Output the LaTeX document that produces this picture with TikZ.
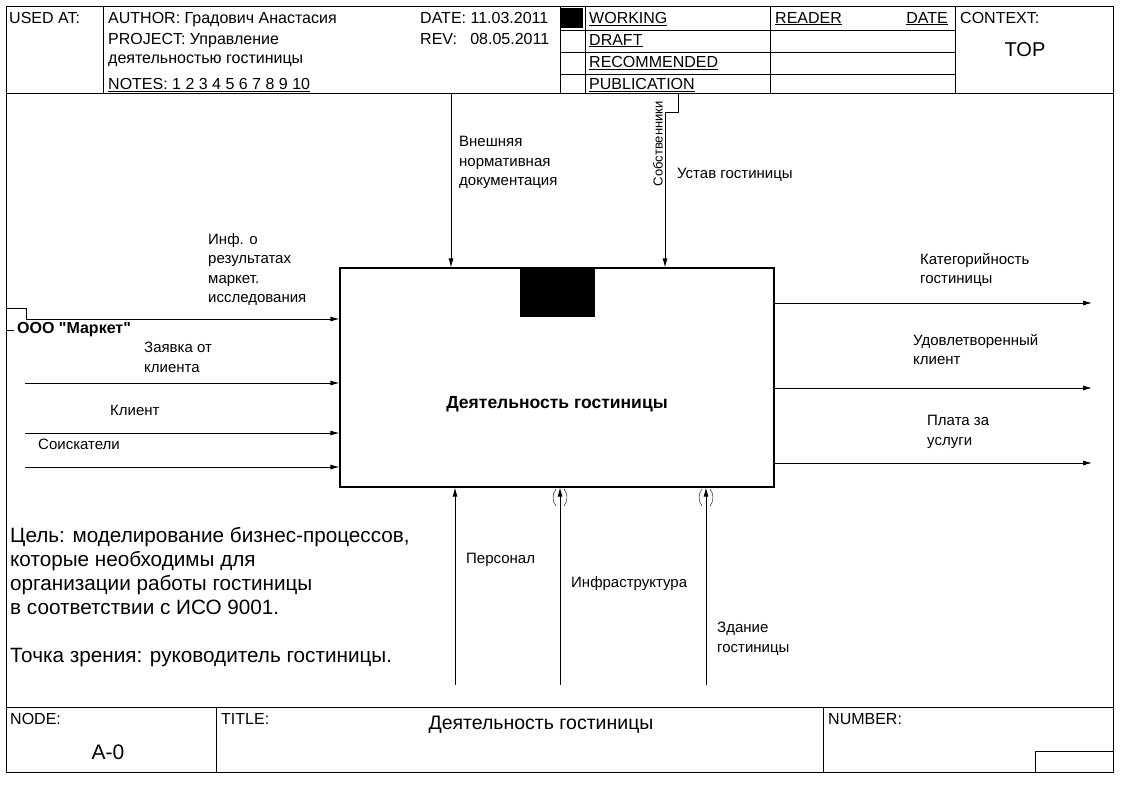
\documentclass[tikz,border=0pt]{standalone}
\usepackage{fontspec}
\setmainfont{Liberation Sans}
\newfontfamily\plainsans{Liberation Sans}
\usetikzlibrary{arrows.meta}
\tikzset{
  lbl/.style={anchor=north west, inner sep=0pt, align=left, font=\fontsize{15}{19.5}\selectfont},
  hdr/.style={anchor=north west, inner sep=0pt, font=\fontsize{16}{18}\selectfont},
  arr/.style={-{Latex[length=9pt,width=5pt]}, line width=0.8pt},
}
\begin{document}
\begin{tikzpicture}[x=1pt,y=-1pt]
\useasboundingbox[fill=white] (0,0) rectangle (1129,787);

% frame
\draw[line width=0.8pt] (6,6) rectangle (1113,772);
\draw[line width=0.8pt] (6,93) -- (1113,93);
\draw[line width=0.8pt] (6,707) -- (1113,707);
\foreach \x in {103,560,585,770,955} \draw (\x,6) -- (\x,93);
\foreach \y in {30,52,74} \draw (560,\y) -- (955,\y);
\fill (561,8) rectangle (583,28);
\foreach \x in {216,823} \draw (\x,707) -- (\x,772);
\draw (1035,772) -- (1035,751) -- (1113,751);

% header texts
\node[hdr] (usedat) at (9,12) {USED AT:};
\node[hdr] (author) at (108,12) {AUTHOR:\ Градович Анастасия};
\node[hdr] (project) at (108,33) {PROJECT:\ Управление};
\node[hdr] (project2) at (108,55) {деятельностью гостиницы};
\node[hdr] (notes) at (108,78) {\underline{NOTES:\ 1\ 2\ 3\ 4\ 5\ 6\ 7\ 8\ 9\ 10}};
\node[hdr] (date) at (420,12) {DATE:\ 11.03.2011};
\node[hdr] (rev) at (420,33) {REV:\ \ \ 08.05.2011};
\node[hdr] (working) at (589,12) {\underline{WORKING}};
\node[hdr] (draft) at (589,34) {\underline{DRAFT}};
\node[hdr] (recom) at (589,56) {\underline{RECOMMENDED}};
\node[hdr] (publ) at (589,78) {\underline{PUBLICATION}};
\node[hdr] (reader) at (775,12) {\underline{READER}};
\node[hdr, anchor=north east] (rdate) at (948,12) {\underline{DATE}};
\node[hdr] (context) at (960,12) {CONTEXT:};
\node[font=\fontsize{20}{22}\selectfont] (top) at (1025,50) {TOP};

% footer texts
\node[hdr] (nodelbl) at (10,713) {NODE:};
\node[font=\fontsize{21}{23}\selectfont] (nodeval) at (108,752) {A-0};
\node[hdr] (titlelbl) at (221,713) {TITLE:};
\node[font=\fontsize{19.5}{22}\selectfont] (titleval) at (541,725) {Деятельность гостиницы};
\node[hdr] (numlbl) at (828,713) {NUMBER:};

% activity
\node[draw, line width=1.2pt, minimum width=434pt, minimum height=219pt, inner sep=0pt] (act) at (557,377.5) {};
\fill (520,268) rectangle (595,317);
\node[font=\bfseries\fontsize{17.5}{20}\selectfont] (acttxt) at (557,404) {Деятельность гостиницы};

% inputs
\coordinate (in1) at (26,319);
\coordinate (in2) at (25,383);
\coordinate (in3) at (25,433);
\coordinate (in4) at (25,467);
\draw[arr] (in1) -- (in1 -| act.west);
\draw[arr] (in2) -- (in2 -| act.west);
\draw[arr] (in3) -- (in3 -| act.west);
\draw[arr] (in4) -- (in4 -| act.west);
\draw (6,308) -- (26,308) -- (in1);
\draw (6,319) -- (6,330) -- (14,330);
\node[lbl, font=\plainsans\bfseries\fontsize{16}{18}\selectfont] (market) at (17,322) {ООО "Маркет"};
\node[lbl] (inf) at (208,233) {Инф. о\\результатах\\маркет.\\исследования};
\node[lbl] (zayavka) at (144,342) {Заявка от\\клиента};
\node[lbl] (client) at (110,405) {Клиент};
\node[lbl] (soisk) at (38,439) {Соискатели};

% controls
\coordinate (c1) at (451,93);
\coordinate (c2) at (665,112);
\draw[arr] (c1) -- (c1 |- act.north);
\draw[arr] (c2) -- (c2 |- act.north);
\draw (c2) -- (678,112) -- (678,93);
\node[lbl] (vnesh) at (459,136) {Внешняя\\нормативная\\документация};
\node[lbl] (ustav) at (677,168) {Устав гостиницы};
\node[lbl, rotate=90, anchor=south east, font=\fontsize{13}{15}\selectfont] (sobstv) at (663,101) {Собственники};

% mechanisms
\coordinate (m1) at (455,685);
\coordinate (m2) at (560,685);
\coordinate (m3) at (706,685);
\draw[arr] (m1) -- (m1 |- act.south);
\draw[arr] (m2) -- (m2 |- act.south);
\draw[arr] (m3) -- (m3 |- act.south);
\foreach \x in {560,706} {
  \draw (\x-4,489) .. controls (\x-8,494) and (\x-8,501) .. (\x-4,506);
  \draw (\x+4,489) .. controls (\x+8,494) and (\x+8,501) .. (\x+4,506);
}
\node[lbl] (pers) at (466,553) {Персонал};
\node[lbl] (infra) at (571,576) {Инфраструктура};
\node[lbl] (zdan) at (717,622) {Здание\\гостиницы};

% outputs
\coordinate (o1) at (1092,303);
\coordinate (o2) at (1092,388);
\coordinate (o3) at (1092,463);
\draw[arr] (o1 -| act.east) -- (o1);
\draw[arr] (o2 -| act.east) -- (o2);
\draw[arr] (o3 -| act.east) -- (o3);
\node[lbl] (kateg) at (920,253) {Категорийность\\гостиницы};
\node[lbl] (udovl) at (913,334) {Удовлетворенный\\клиент};
\node[lbl] (plata) at (927,415) {Плата за\\услуги};

% goal
\node[anchor=north west, inner sep=0pt, align=left, font=\fontsize{20.7}{24}\selectfont] (goal) at (10,527)
  {Цель: моделирование бизнес-процессов,\\которые необходимы для\\организации работы гостиницы\\в соответствии с ИСО 9001.\\[24pt]Точка зрения: руководитель гостиницы.};
\end{tikzpicture}
\end{document}
